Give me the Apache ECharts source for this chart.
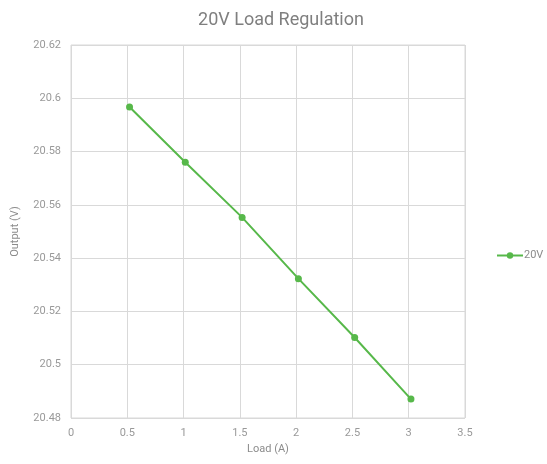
<!DOCTYPE html>
<html><head><meta charset="utf-8">
<script src="https://cdn.jsdelivr.net/npm/echarts@6/dist/echarts.min.js"></script>
<style>html,body{margin:0;padding:0;background:#fff}#c{width:547px;height:464px}</style>
</head><body><div id="c"></div>
<script>
const loadA = [0.52, 1.015, 1.52, 2.02, 2.52, 3.02];
const output20V = [20.5967, 20.576, 20.5553, 20.5323, 20.5102, 20.4871];
const seriesName = '20V';
const chart = echarts.init(document.getElementById('c'));
const font = 'Roboto, "Liberation Sans", sans-serif';
chart.setOption({
  animation: false,
  textStyle: {fontFamily: font},
  title: {text: '20V Load Regulation', left: 276, top: 6, textAlign: 'center',
    textStyle: {fontSize: 18, fontWeight: 'normal', color: '#7f7f7f', fontFamily: font}},
  legend: {data: [seriesName], left: 491, top: 245, itemWidth: 26, itemHeight: 8, itemGap: 4,
    textStyle: {color: '#8c8c8c', fontSize: 11, fontFamily: font, padding: [0,0,0,-4]}},
  grid: {left: 71, right: 82, top: 45, bottom: 46, show: true, borderColor: '#d9d9d9', borderWidth: 1},
  xAxis: {type: 'value', min: 0, max: 3.5, interval: 0.5, name: 'Load (A)', nameLocation: 'middle', nameGap: 26,
    nameTextStyle: {color: '#8c8c8c', fontSize: 11},
    axisLine: {show: false}, axisTick: {show: false},
    axisLabel: {color: '#999999', fontSize: 11, margin: 10},
    splitLine: {show: true, lineStyle: {color: '#d9d9d9'}}},
  yAxis: {type: 'value', min: 20.48, max: 20.62, interval: 0.02, name: 'Output (V)', nameLocation: 'middle', nameGap: 50,
    nameTextStyle: {color: '#8c8c8c', fontSize: 11},
    axisLine: {show: false}, axisTick: {show: false},
    axisLabel: {color: '#999999', fontSize: 11, margin: 10, formatter: v => String(parseFloat(v.toFixed(2)))},
    splitLine: {show: true, lineStyle: {color: '#d9d9d9'}}},
  series: [{name: seriesName, type: 'line', data: loadA.map((x, i) => [x, output20V[i]]),
    symbol: 'circle', symbolSize: 7, color: '#57b84a', lineStyle: {width: 2, color: '#57b84a'},
    itemStyle: {color: '#57b84a'}}]
});
</script></body></html>
